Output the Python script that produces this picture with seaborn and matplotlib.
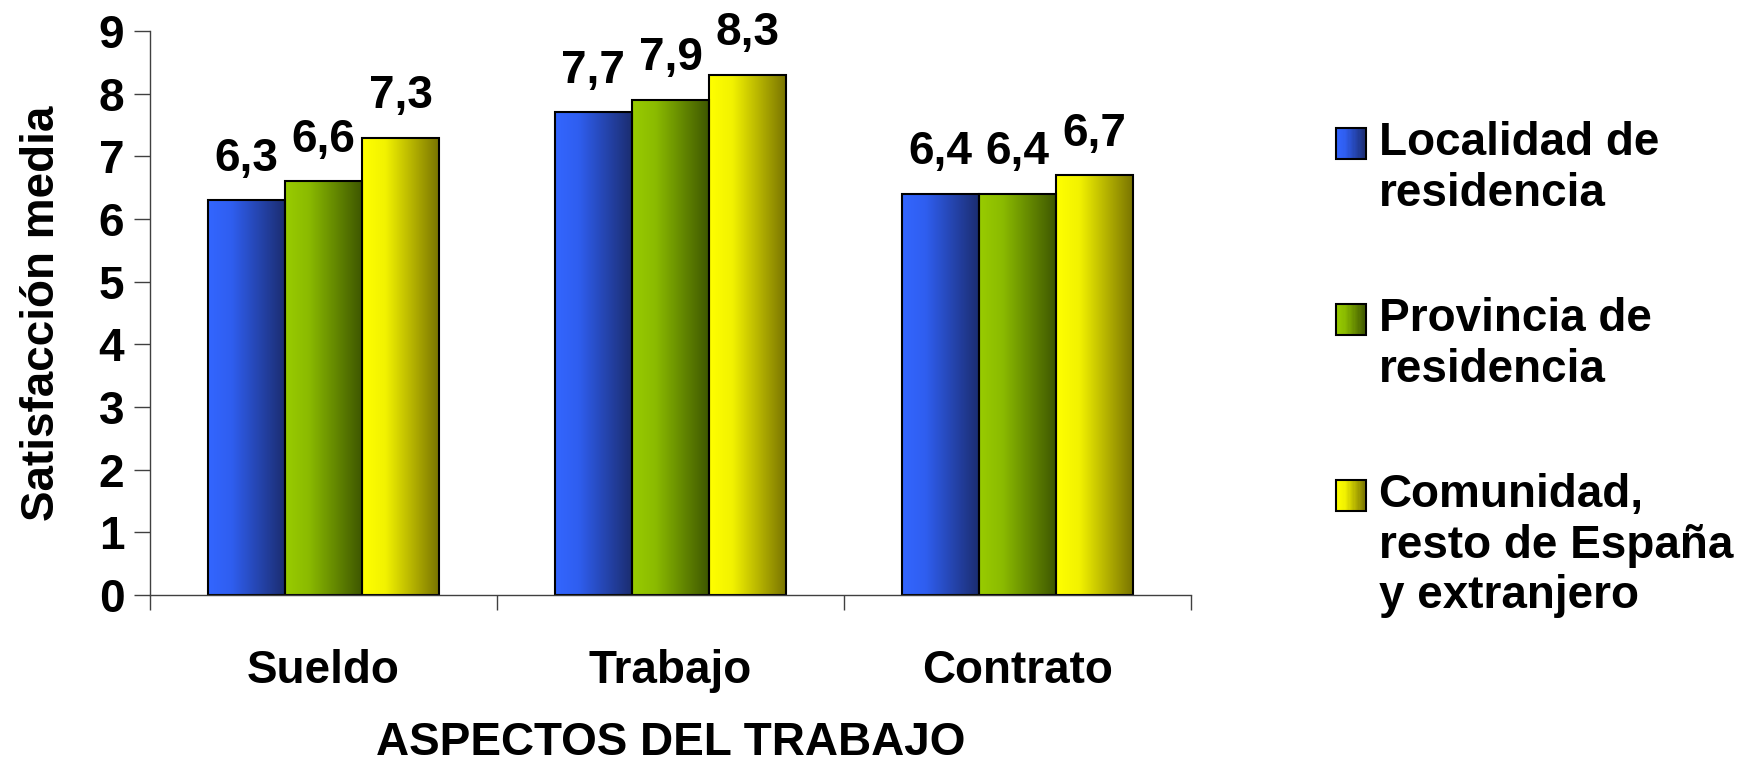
import matplotlib
matplotlib.use("Agg")
import matplotlib.pyplot as plt
import matplotlib.patches as mpatches
from matplotlib.colors import LinearSegmentedColormap
from matplotlib.legend_handler import HandlerBase
import numpy as np
import pandas as pd
import seaborn as sns

# DATA
categories = ["Sueldo", "Trabajo", "Contrato"]
series_names = ["Localidad de\nresidencia",
                "Provincia de\nresidencia",
                "Comunidad,\nresto de España\ny extranjero"]
localidad = [6.3, 7.7, 6.4]
provincia = [6.6, 7.9, 6.4]
comunidad = [7.3, 8.3, 6.7]
y_ticks = [0, 1, 2, 3, 4, 5, 6, 7, 8, 9]

# gradient colours: bright on the left, dark on the right
grad_colors = [
    ["#3366ff", "#2f5ef0", "#1b2c6e"],
    ["#99cc00", "#8bbb00", "#3d5500"],
    ["#ffff00", "#f2f200", "#777200"],
]
cmaps = [LinearSegmentedColormap.from_list("g%d" % i, [(0, c[0]), (0.3, c[1]), (1, c[2])])
         for i, c in enumerate(grad_colors)]

df = pd.DataFrame({
    "aspecto": categories * 3,
    "valor": localidad + provincia + comunidad,
    "serie": [series_names[0]] * 3 + [series_names[1]] * 3 + [series_names[2]] * 3,
})

sns.set_style("ticks")
plt.rcParams["font.family"] = ["Liberation Sans", "DejaVu Sans"]
plt.rcParams["font.weight"] = "bold"
plt.rcParams["text.color"] = "black"
plt.rcParams["axes.labelcolor"] = "black"
plt.rcParams["xtick.labelcolor"] = "black"
plt.rcParams["ytick.labelcolor"] = "black"
FS = 33

fig = plt.figure(figsize=(17.45, 7.66), dpi=100)
ax = fig.add_axes([150 / 1745, 1 - 595 / 766, (1191 - 150) / 1745, (595 - 31) / 766])

sns.barplot(data=df, x="aspecto", y="valor", hue="serie", order=categories,
            hue_order=series_names, palette=[c[1] for c in grad_colors],
            width=0.667, gap=0, saturation=1, edgecolor="black", linewidth=1.5,
            legend=False, ax=ax)

# gradient fill for each bar, clipped to the bar shape
for i, cont in enumerate(ax.containers):
    for bar in cont:
        x0, y0 = bar.get_x(), bar.get_y()
        x1, y1 = x0 + bar.get_width(), y0 + bar.get_height()
        grad = np.linspace(0, 1, 256).reshape(1, -1)
        ax.imshow(grad, cmap=cmaps[i], extent=[x0, x1, y0, y1], aspect="auto",
                  interpolation="bilinear", zorder=1)
        bar.set_facecolor("none")
        bar.set_zorder(2)
    labels = [("%.1f" % v).replace(".", ",") for v in cont.datavalues]
    ax.bar_label(cont, labels=labels, padding=14, fontsize=FS, fontweight="bold", color="black")

ax.set_xlim(-0.5, 2.5)
ax.set_ylim(0, 9)
ax.set_yticks(y_ticks)
ax.set_yticklabels([str(t) for t in y_ticks], fontsize=FS, fontweight="bold")
ax.set_xticks([-0.5, 0.5, 1.5, 2.5])
ax.set_xticklabels([])
ax.set_xticks([0, 1, 2], minor=True)
ax.set_xticklabels(categories, minor=True, fontsize=FS, fontweight="bold")
ax.tick_params(axis="x", which="major", length=11, width=1, color="#404040", direction="out")
ax.tick_params(axis="x", which="minor", length=0, pad=39)
ax.tick_params(axis="y", length=11.5, width=1, color="#404040", direction="out", pad=7)

ax.set_ylabel("Satisfacción media", fontsize=FS, fontweight="bold", labelpad=25)
ax.set_xlabel("ASPECTOS DEL TRABAJO", fontsize=FS, fontweight="bold", labelpad=20)

sns.despine(ax=ax)
for s in ["left", "bottom"]:
    ax.spines[s].set_color("#404040")
    ax.spines[s].set_linewidth(1)


class GradientHandler(HandlerBase):
    # square with a horizontal gradient, lifted to sit beside the first text line
    def __init__(self, cmap, nlines):
        super().__init__()
        self.cmap = cmap
        self.nlines = nlines

    def create_artists(self, legend, orig_handle, xdescent, ydescent, width, height, fontsize, trans):
        lift = (self.nlines - 1) / 2 * 1.118 * fontsize
        y = -ydescent + lift
        arts = []
        n = 24
        for k in range(n):
            arts.append(mpatches.Rectangle((-xdescent + width * k / n, y), width / n, height,
                                           facecolor=self.cmap((k + 0.5) / n), edgecolor="none",
                                           transform=trans))
        arts.append(mpatches.Rectangle((-xdescent, y), width, height, facecolor="none",
                                       edgecolor="black", lw=1.5, transform=trans))
        return arts


handles = [mpatches.Patch() for _ in series_names]
fig.legend(handles, series_names, loc="upper left",
           bbox_to_anchor=(1336 / 1745, 1 - 121 / 766), bbox_transform=fig.transFigure,
           frameon=False, prop={"weight": "bold", "size": FS},
           handlelength=0.65, handleheight=0.65, handletextpad=0.28, labelspacing=1.77,
           borderpad=0, borderaxespad=0,
           handler_map={h: GradientHandler(cm, name.count("\n") + 1)
                        for h, cm, name in zip(handles, cmaps, series_names)})

fig.savefig("out.png", dpi=100)
